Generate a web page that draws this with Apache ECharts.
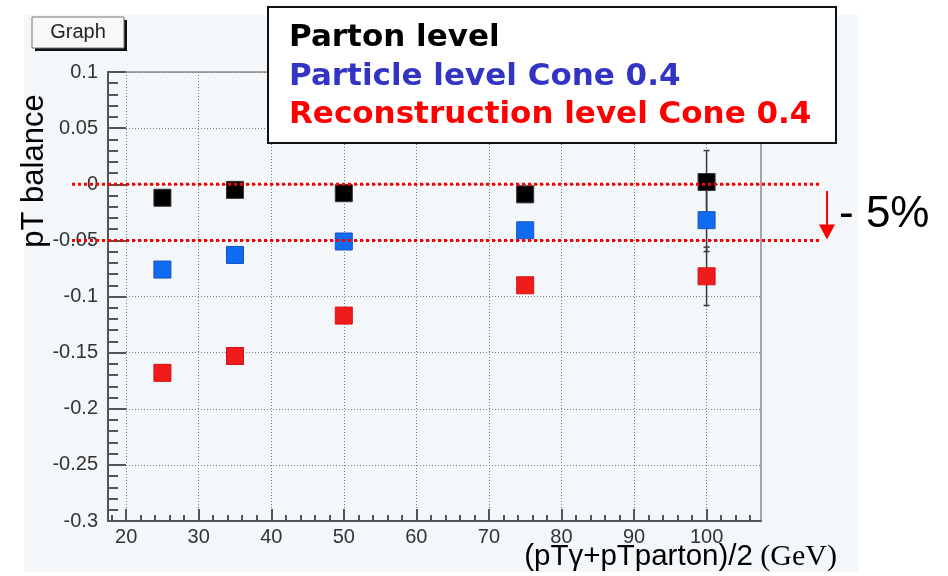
<!DOCTYPE html>
<html>
<head>
<meta charset="utf-8">
<script src="https://cdn.jsdelivr.net/npm/echarts@6/dist/echarts.min.js"></script>
<style>
  html, body { margin:0; padding:0; background:#fff; }
  #wrap { position:relative; width:948px; height:576px; }
  #pad { position:absolute; left:24px; top:15px; width:834px; height:557px; background:#f4f7fa; }
  #chart { position:absolute; left:0; top:0; width:948px; height:576px; }
</style>
</head>
<body>
<div id="wrap"><div id="pad"></div><div id="chart"></div></div>
<script>
// x positions (GeV)
const xValues = [25, 35, 50, 75, 100];
// pT balance per level
const partonLevel = [-0.012, -0.005, -0.008, -0.009, 0.002];
const particleLevel = [-0.076, -0.063, -0.051, -0.041, -0.032];
const recoLevel = [-0.168, -0.153, -0.117, -0.090, -0.082];
// error bars are only visible at the last point
const errX = [100];
const partonErr = [0.028];
const particleErr = [0.028];
const recoErr = [0.026];
// axis ticks
const xTickLabels = [20, 30, 40, 50, 60, 70, 80, 90, 100];
const xMinorTicks = [18, 22, 24, 26, 28, 32, 34, 36, 38, 42, 44, 46, 48, 52, 54, 56, 58,
  62, 64, 66, 68, 72, 74, 76, 78, 82, 84, 86, 88, 92, 94, 96, 98, 102, 104, 106];
const legendLines = ['Parton level', 'Particle level Cone 0.4', 'Reconstruction level Cone 0.4'];
const legendColors = ['#000000', '#3434c4', '#ff0000'];
const bandLevels = [0, -0.05];

const chart = echarts.init(document.getElementById('chart'), null, { renderer: 'canvas' });

function pairs(ys) {
  return xValues.map((x, i) => [x, ys[i]]);
}
function errPairs(ys, errs) {
  // 最后一个点的误差
  const idx = xValues.indexOf(errX[0]);
  return errX.map((x, i) => [x, ys[idx] - errs[i], ys[idx] + errs[i]]);
}
function renderErr(params, api) {
  const x = api.value(0);
  const lo = api.coord([x, api.value(1)]);
  const hi = api.coord([x, api.value(2)]);
  const w = 3;
  const st = { stroke: '#3a3a3a', lineWidth: 1.5 };
  return {
    type: 'group',
    children: [
      { type: 'line', shape: { x1: hi[0], y1: hi[1], x2: lo[0], y2: lo[1] }, style: st },
      { type: 'line', shape: { x1: hi[0] - w, y1: hi[1], x2: hi[0] + w, y2: hi[1] }, style: st },
      { type: 'line', shape: { x1: lo[0] - w, y1: lo[1], x2: lo[0] + w, y2: lo[1] }, style: st }
    ]
  };
}

const gridLine = { show: true, lineStyle: { type: [1, 2], color: '#7a7a7a', width: 1 } };
const tickLabelStyle = { fontSize: 20, fontFamily: '"Liberation Sans", Arial, sans-serif', color: '#333' };

const option = {
  animation: false,
  grid: { left: 108, top: 72, right: 187, bottom: 55, show: true, borderColor: '#8a8a8a', borderWidth: 1.5, backgroundColor: 'transparent' },
  xAxis: [{
    type: 'value', min: 17.5, max: 107.5, position: 'bottom',
    axisLine: { onZero: false, lineStyle: { color: '#555', width: 2 } },
    axisTick: { inside: true, length: 12, customValues: xTickLabels, lineStyle: { color: '#555', width: 2 } },
    axisLabel: Object.assign({ customValues: xTickLabels, margin: 6 }, tickLabelStyle),
    splitLine: gridLine
  }, {
    type: 'value', min: 17.5, max: 107.5, position: 'bottom',
    axisLine: { show: false, onZero: false },
    axisTick: { inside: true, length: 6, customValues: xMinorTicks, lineStyle: { color: '#555', width: 2 } },
    axisLabel: { show: false },
    splitLine: { show: false }
  }],
  yAxis: {
    type: 'value', min: -0.3, max: 0.1, interval: 0.05,
    axisLine: { show: true, onZero: false, lineStyle: { color: '#555', width: 2 } },
    axisTick: { show: true, inside: true, length: 18, lineStyle: { color: '#555', width: 2 } },
    minorTick: { show: true, splitNumber: 5, length: 10, lineStyle: { color: '#555', width: 2 } },
    axisLabel: Object.assign({ margin: 10, formatter: v => String(Number(v.toFixed(2))) }, tickLabelStyle),
    splitLine: gridLine
  },
  series: [
    { type: 'custom', renderItem: renderErr, data: errPairs(recoLevel, recoErr), z: 2 },
    { type: 'custom', renderItem: renderErr, data: errPairs(particleLevel, particleErr), z: 2 },
    { type: 'custom', renderItem: renderErr, data: errPairs(partonLevel, partonErr), z: 2 },
    { type: 'scatter', symbol: 'rect', symbolSize: 17, data: pairs(recoLevel), z: 3,
      itemStyle: { color: '#f01c1c', borderColor: '#d81010', borderWidth: 1, opacity: 1 } },
    { type: 'scatter', symbol: 'rect', symbolSize: 17, data: pairs(particleLevel), z: 3,
      itemStyle: { color: '#0f6cf2', borderColor: '#1a4fc0', borderWidth: 1, opacity: 1 } },
    { type: 'scatter', symbol: 'rect', symbolSize: 17, data: pairs(partonLevel), z: 3,
      itemStyle: { color: '#000000', borderColor: '#333', borderWidth: 1, opacity: 1 } }
  ]
};
chart.setOption(option);

// 注释图形：红色虚线、箭头、图例框、标题
const yPix = bandLevels.map(v => chart.convertToPixel({ yAxisIndex: 0 }, v));
const arrowTop = chart.convertToPixel({ yAxisIndex: 0 }, -0.006);
const graphics = [];
yPix.forEach(y => {
  graphics.push({ type: 'line', z: 50, shape: { x1: 72, y1: y, x2: 821, y2: y },
    style: { stroke: '#ff0000', lineWidth: 3, lineDash: [3, 3] } });
});
graphics.push({ type: 'line', z: 50, shape: { x1: 827, y1: arrowTop, x2: 827, y2: yPix[1] - 12 },
  style: { stroke: '#ff0000', lineWidth: 2 } });
graphics.push({ type: 'polygon', z: 50, shape: { points: [[819, yPix[1] - 16], [835, yPix[1] - 16], [827, yPix[1] - 1]] },
  style: { fill: '#ff0000' } });
graphics.push({ type: 'text', z: 50, x: 839, y: (yPix[0] + yPix[1]) / 2 + 3,
  style: { text: '- 5%', fill: '#000', font: '44px "Liberation Sans", Arial, sans-serif', verticalAlign: 'middle' } });

// 图例框
graphics.push({ type: 'rect', z: 60, shape: { x: 268, y: 7, width: 568, height: 136 },
  style: { fill: '#ffffff', stroke: '#111', lineWidth: 2 } });
legendLines.forEach((t, i) => {
  graphics.push({ type: 'text', z: 61, x: 289, y: 38 + i * 38.5,
    style: { text: t, fill: legendColors[i], font: 'bold 31px "DejaVu Sans", sans-serif', verticalAlign: 'middle' } });
});

// Graph 标签
graphics.push({ type: 'rect', z: 40, shape: { x: 35, y: 20, width: 92, height: 31 }, style: { fill: '#111' } });
graphics.push({ type: 'rect', z: 41, shape: { x: 32, y: 17, width: 92, height: 31 },
  style: { fill: '#f6f8fa', stroke: '#777', lineWidth: 1 } });
graphics.push({ type: 'text', z: 42, x: 78, y: 32,
  style: { text: 'Graph', fill: '#222', font: '20px "Liberation Sans", Arial, sans-serif', align: 'center', verticalAlign: 'middle' } });

// 轴标题
graphics.push({ type: 'text', z: 42, x: 34, y: 171, rotation: Math.PI / 2,
  style: { text: 'pT balance', fill: '#000', font: '31px "Liberation Sans", Arial, sans-serif', align: 'center', verticalAlign: 'middle' } });
graphics.push({ type: 'text', z: 42, x: 837, y: 557,
  style: {
    text: '{a|(pTγ+pTparton)/2}{b| (GeV)}', align: 'right', verticalAlign: 'middle',
    rich: {
      a: { fontSize: 29.5, fontFamily: '"Liberation Sans", Arial, sans-serif', fill: '#000' },
      b: { fontSize: 30, fontFamily: '"Liberation Serif", "Times New Roman", serif', fill: '#000' }
    }
  } });
chart.setOption({ graphic: graphics });
</script>
</body>
</html>
